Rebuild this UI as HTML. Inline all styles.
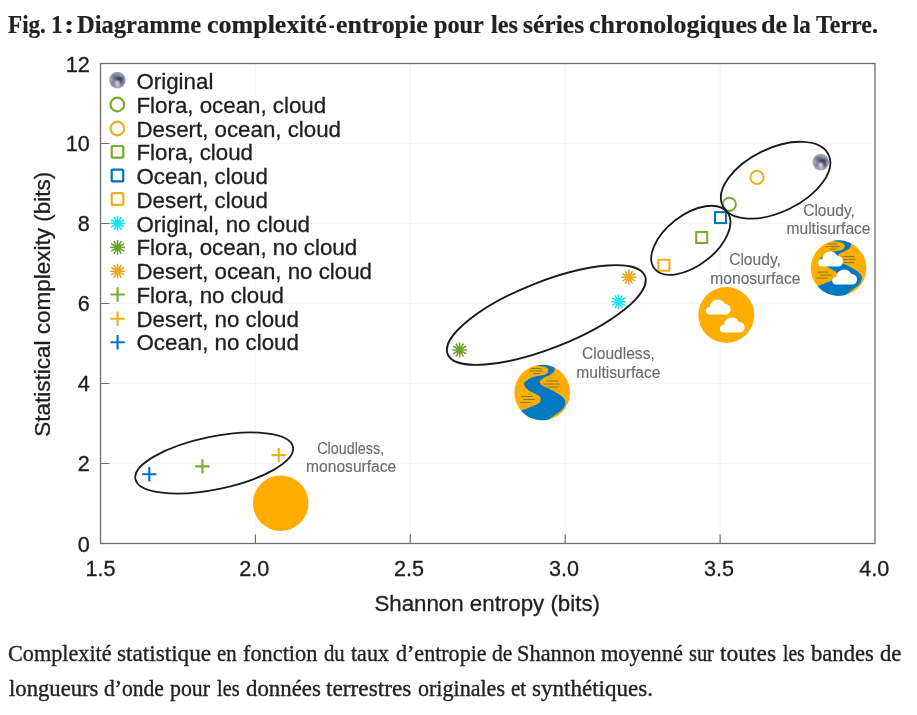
<!DOCTYPE html>
<html lang="fr">
<head>
<meta charset="utf-8">
<title>Fig. 1</title>
<style>
  html, body { margin: 0; padding: 0; background: #ffffff; }
  body { width: 917px; height: 715px; position: relative; overflow: hidden; font-family: "Liberation Sans", sans-serif; }
  #title, #l1, #l2 { filter: grayscale(1); position: absolute; left: 0; margin: 0; padding: 0; width: 917px; white-space: nowrap; color: #222222; font-family: "Liberation Serif", serif; }
  #title { top: 10px; height: 30px; font-weight: bold; font-size: 24.5px; line-height: 30px; -webkit-text-stroke: 0.2px #222222; }
  #l1, #l2 { height: 30px; font-size: 23px; line-height: 30px; font-weight: normal; -webkit-text-stroke: 0.35px #222222; }
  #l1 { top: 639.2px; }
  #l2 { top: 674px; }
  #title span, #l1 span, #l2 span { position: absolute; top: 0; display: block; transform-origin: 0 0; white-space: nowrap; }
  #chart { position: absolute; left: 0; top: 0; filter: blur(0.4px); }
  #chart .tx { filter: grayscale(1); stroke: #1e1e1e; stroke-width: 0.3px; }
  #chart .lb { stroke: #6b6b6b; stroke-width: 0.12px; }
  #chart text { font-family: "Liberation Sans", sans-serif; }
</style>
</head>
<body>
<h1 id="title"><span style="left:8.4px;transform:scaleX(0.944)">Fig.</span> <span style="left:50.8px;transform:scaleX(0.96)">1</span> <span style="left:64.1px;transform:scaleX(1.25)">:</span> <span style="left:76.8px;transform:scaleX(1.002)">Diagramme</span> <span style="left:207.3px;transform:scaleX(1.061)">complexité</span> <span style="left:329px;transform:scaleX(0.675)">-</span> <span style="left:336.2px;transform:scaleX(1.059)">entropie</span> <span style="left:433.8px;transform:scaleX(0.99)">pour</span> <span style="left:490.5px;transform:scaleX(0.993)">les</span> <span style="left:523px;transform:scaleX(1.045)">séries</span> <span style="left:589px;transform:scaleX(1.058)">chronologiques</span> <span style="left:761.3px;transform:scaleX(1.067)">de</span> <span style="left:793.2px;transform:scaleX(0.936)">la</span> <span style="left:816.4px;transform:scaleX(0.98)">Terre.</span></h1>

<svg id="chart" width="917" height="715" viewBox="0 0 917 715">
  <defs>
    <radialGradient id="earthg" cx="0.5" cy="0.5" r="0.5">
      <stop offset="0" stop-color="#7d8299"/>
      <stop offset="0.7" stop-color="#878ca2"/>
      <stop offset="0.92" stop-color="#9da1b8"/>
      <stop offset="1" stop-color="#c3c6d4"/>
    </radialGradient>
    <filter id="eb" x="-50%" y="-50%" width="200%" height="200%"><feGaussianBlur stdDeviation="1.1"/></filter>
    <clipPath id="ecl"><circle cx="0" cy="0" r="8.4"/></clipPath>
    <g id="earth">
      <circle cx="0" cy="0" r="8.4" fill="url(#earthg)"/>
      <g clip-path="url(#ecl)" filter="url(#eb)">
        <ellipse cx="1.6" cy="-1.2" rx="3.8" ry="2.8" fill="#36405c"/>
        <ellipse cx="3.6" cy="2.6" rx="2" ry="1.7" fill="#505a78"/>
        <ellipse cx="-3.4" cy="-3.2" rx="1.8" ry="1.4" fill="#626a88"/>
        <ellipse cx="-0.2" cy="2.6" rx="1.7" ry="1.9" fill="#f4f5fa"/>
        <ellipse cx="0.4" cy="5.8" rx="1.9" ry="1" fill="#dfe1eb"/>
        <ellipse cx="-6.4" cy="-0.4" rx="0.9" ry="1.1" fill="#d9dce8"/>
        <ellipse cx="3.2" cy="-5" rx="1.6" ry="0.9" fill="#a9adc4"/>
      </g>
    </g>
    <clipPath id="icl"><circle cx="0" cy="0" r="27.8"/></clipPath>
    <!-- cloud shape, local coords: bbox approx x -12.3..12.3, y -7.5..7.5 -->
    <path id="cloud" d="M -8.6 7.5 C -10.8 7.5 -12.4 5.8 -12.4 3.7 C -12.4 1.5 -10.6 -0.1 -8.4 0 C -8 -4.3 -4.6 -7.6 -0.4 -7.6 C 2.8 -7.6 5.5 -5.7 6.7 -3 C 9.9 -3.1 12.4 -0.8 12.4 2.3 C 12.4 5.2 10.1 7.5 7.2 7.5 Z"/>
    <g id="plus"><path d="M -7.2 0 H 7.2 M 0 -7.2 V 7.2" fill="none" stroke-width="2.1"/></g>
    <g id="ast"><path d="M -7.40 -0.00 L 7.40 0.00 M -6.41 -3.70 L 6.41 3.70 M -3.70 -6.41 L 3.70 6.41 M -0.00 -7.40 L 0.00 7.40 M 3.70 -6.41 L -3.70 6.41 M 6.41 -3.70 L -6.41 3.70" fill="none" stroke-width="1.6"/><circle cx="0" cy="0" r="3.4" stroke="none"/></g>
    <g id="river">
      <circle cx="0" cy="0" r="27.8" fill="#ffad00"/>
      <g clip-path="url(#icl)">
        <path d="M -9.0 -31.0 C -8.3 -30.4 -6.8 -28.0 -4.9 -27.1 C -3.0 -26.2 0.4 -26.4 2.3 -25.7 C 4.2 -25.0 6.0 -24.1 6.2 -22.9 C 6.4 -21.7 6.0 -19.5 3.6 -18.3 C 1.2 -17.1 -4.8 -16.9 -8.2 -15.7 C -11.6 -14.5 -15.1 -12.4 -16.7 -11.1 C -18.3 -9.8 -18.4 -9.2 -18.0 -7.8 C -17.6 -6.4 -16.4 -4.3 -14.1 -2.6 C -11.8 -0.9 -6.3 1.2 -4.2 2.7 C -2.1 4.2 -1.6 5.2 -1.6 6.6 C -1.6 8.0 -1.2 9.3 -4.2 11.2 C -7.2 13.0 -15.9 16.1 -19.9 17.7 C -23.9 19.3 -26.6 20.4 -28.0 21.0 L -28 34 L 4 34 L 4.0 31.0 C 5.0 29.9 7.4 26.7 10.2 24.3 C 13.0 21.9 18.4 18.8 20.6 16.4 C 22.8 14.0 23.2 11.9 23.2 9.9 C 23.2 7.9 22.8 6.6 20.6 4.6 C 18.4 2.6 13.7 0.1 10.2 -1.9 C 6.7 -3.9 1.8 -5.7 -0.3 -7.2 C -2.4 -8.7 -2.7 -9.8 -2.3 -11.1 C -1.9 -12.4 0.1 -13.6 2.3 -15.0 C 4.5 -16.4 9.1 -18.0 10.8 -19.6 C 12.6 -21.2 12.1 -23.1 12.8 -24.8 C 13.5 -26.5 14.6 -29.1 15.0 -30.0 Z" fill="#0079c2"/>
        <g stroke="#7f7c1e" stroke-width="1" fill="none">
          <path d="M -11 -24 H -1 M -13 -21.5 H 1 M -9 -19 H -2"/>
          <path d="M 4 -11.5 H 16 M 1 -8.5 H 17 M 5 -5.5 H 16"/>
          <path d="M -21 4 H -10 M -19 7 H -7 M -22 10 H -11"/>
        </g>
      </g>
    </g>
  </defs>

  <!-- grid -->
  <g stroke="#f5f5f5" stroke-width="1" fill="none">
    <path d="M 255.4 63.5 V 543.5 M 410.3 63.5 V 543.5 M 565.2 63.5 V 543.5 M 720.1 63.5 V 543.5"/>
    <path d="M 100.5 143.5 H 875 M 100.5 223.5 H 875 M 100.5 303.5 H 875 M 100.5 383.5 H 875 M 100.5 463.5 H 875"/>
  </g>
  <!-- frame -->
  <rect x="100.5" y="63.5" width="774.5" height="480" fill="none" stroke="#6e6e6e" stroke-width="1.3"/>
  <!-- ticks -->
  <g stroke="#6e6e6e" stroke-width="1.2" fill="none">
    <path d="M 100.5 143.5 h 9 M 100.5 223.5 h 9 M 100.5 303.5 h 9 M 100.5 383.5 h 9 M 100.5 463.5 h 9"/>
    <path d="M 255.4 543.5 v -9 M 410.3 543.5 v -9 M 565.2 543.5 v -9 M 720.1 543.5 v -9"/>
  </g>

  <!-- tick labels -->
  <g class="tx" font-size="21.6" fill="#1e1e1e" text-anchor="end">
    <text x="89.7" y="71.8">12</text>
    <text x="89.7" y="151.3">10</text>
    <text x="89.7" y="231.3">8</text>
    <text x="89.7" y="311.3">6</text>
    <text x="89.7" y="391.3">4</text>
    <text x="89.7" y="471.3">2</text>
    <text x="89.7" y="551.8">0</text>
  </g>
  <g class="tx" font-size="21.6" fill="#1e1e1e" text-anchor="middle">
    <text x="100.6" y="576.4">1.5</text>
    <text x="254.2" y="576.4">2.0</text>
    <text x="409.1" y="576.4">2.5</text>
    <text x="564" y="576.4">3.0</text>
    <text x="718.9" y="576.4">3.5</text>
    <text x="874.3" y="576.4">4.0</text>
  </g>
  <text class="tx" x="487.2" y="611" font-size="22.3" fill="#1e1e1e" text-anchor="middle">Shannon entropy (bits)</text>
  <text class="tx" transform="translate(50.3 304.3) rotate(-90)" font-size="22.5" fill="#1e1e1e" text-anchor="middle">Statistical complexity (bits)</text>

  <!-- legend -->
  <g id="legend">
    <use href="#earth" x="117.4" y="80.2"/>
    <circle cx="117.3" cy="104.5" r="6.8" fill="none" stroke="#77ac30" stroke-width="2.2"/>
    <circle cx="117.3" cy="128.5" r="6.8" fill="none" stroke="#edb120" stroke-width="2.2"/>
    <rect x="111.7" y="146" width="11.6" height="11.6" rx="0.8" fill="none" stroke="#77ac30" stroke-width="2.2"/>
    <rect x="111.7" y="169.7" width="11.6" height="11.6" rx="0.8" fill="none" stroke="#0072bd" stroke-width="2.2"/>
    <rect x="111.7" y="193.2" width="11.6" height="11.6" rx="0.8" fill="none" stroke="#edb120" stroke-width="2.2"/>
    <use href="#ast" x="117.6" y="223.4" stroke="#1fe4ec" fill="#1fe4ec"/>
    <use href="#ast" x="117.6" y="247.4" stroke="#6fa22f" fill="#6aa62e"/>
    <use href="#ast" x="117.6" y="271.2" stroke="#e3a424" fill="#f2a81f"/>
    <use href="#plus" x="117.6" y="294.5" stroke="#77ac30"/>
    <use href="#plus" x="117.6" y="318.7" stroke="#edb120"/>
    <use href="#plus" x="117.6" y="342.2" stroke="#0072bd"/>
    <g class="tx" font-size="22.3" fill="#1e1e1e">
      <text x="136.5" y="89.2">Original</text>
      <text x="136.5" y="112.9">Flora, ocean, cloud</text>
      <text x="136.5" y="136.7">Desert, ocean, cloud</text>
      <text x="136.5" y="160.4">Flora, cloud</text>
      <text x="136.5" y="184.2">Ocean, cloud</text>
      <text x="136.5" y="207.9">Desert, cloud</text>
      <text x="136.5" y="231.6">Original, no cloud</text>
      <text x="136.5" y="255.4">Flora, ocean, no cloud</text>
      <text x="136.5" y="279.1">Desert, ocean, no cloud</text>
      <text x="136.5" y="302.9">Flora, no cloud</text>
      <text x="136.5" y="326.6">Desert, no cloud</text>
      <text x="136.5" y="350.3">Ocean, no cloud</text>
    </g>
  </g>

  <!-- data markers -->
  <use href="#plus" x="149.3" y="474.2" stroke="#0072bd"/>
  <use href="#plus" x="202.4" y="466.4" stroke="#77ac30"/>
  <use href="#plus" x="278.7" y="455.1" stroke="#edb120"/>
  <use href="#ast" x="459.7" y="350" stroke="#6fa22f" fill="#6aa62e"/>
  <use href="#ast" x="618.6" y="301.7" stroke="#1fe4ec" fill="#1fe4ec"/>
  <use href="#ast" x="628.9" y="277.2" stroke="#e3a424" fill="#f2a81f"/>
  <rect x="658.4" y="259.7" width="11" height="11" fill="none" stroke="#edb120" stroke-width="2"/>
  <rect x="696.2" y="232" width="11" height="11" fill="none" stroke="#77ac30" stroke-width="2"/>
  <rect x="715" y="212.1" width="11" height="11" fill="none" stroke="#0072bd" stroke-width="2"/>
  <circle cx="729.3" cy="204.3" r="6.6" fill="none" stroke="#77ac30" stroke-width="2"/>
  <circle cx="757" cy="177.4" r="6.6" fill="none" stroke="#edb120" stroke-width="2"/>
  <use href="#earth" x="820.8" y="162.2"/>

  <!-- ellipses -->
  <g fill="none" stroke="#1a1a1a" stroke-width="1.8">
    <ellipse cx="0" cy="0" rx="80.4" ry="26.4" transform="translate(214.2 463) rotate(-11.6)"/>
    <ellipse cx="0" cy="0" rx="106.1" ry="33.3" transform="translate(546.3 315) rotate(-21.6)"/>
    <ellipse cx="0" cy="0" rx="46" ry="25.3" transform="translate(690.8 240.3) rotate(-37.7)"/>
    <ellipse cx="0" cy="0" rx="58.8" ry="31.8" transform="translate(775.6 180.2) rotate(-25.9)"/>
  </g>

  <!-- icons -->
  <circle cx="280.7" cy="503.2" r="27.8" fill="#ffad00"/>
  <use href="#river" x="542.2" y="392.5"/>
  <g transform="translate(726.3 315)">
    <circle cx="0" cy="0" r="28" fill="#ffad00"/>
    <use href="#cloud" x="-8.1" y="-7.9" fill="#ffffff"/>
    <use href="#cloud" x="6" y="10" fill="#ffffff"/>
  </g>
  <g transform="translate(838.6 268.1)">
    <use href="#river" x="0" y="0"/>
    <use href="#cloud" x="-8" y="-9" fill="#ffffff"/>
    <use href="#cloud" x="6" y="9" fill="#ffffff"/>
  </g>

  <!-- group labels -->
  <g class="tx lb" font-size="15.6" fill="#6b6b6b" text-anchor="middle">
    <text x="350.7" y="453.6" textLength="67" lengthAdjust="spacingAndGlyphs">Cloudless,</text>
    <text x="351.2" y="472.1">monosurface</text>
    <text x="618.4" y="359.3">Cloudless,</text>
    <text x="618.4" y="377.8">multisurface</text>
    <text x="755" y="264.9">Cloudy,</text>
    <text x="755.4" y="283.8">monosurface</text>
    <text x="829" y="216">Cloudy,</text>
    <text x="828.5" y="234.1">multisurface</text>
  </g>
</svg>

<div id="cap">
  <p id="l1"><span style="left:7.8px;transform:scaleX(0.965)">Complexité</span> <span style="left:117.2px;transform:scaleX(1.009)">statistique</span> <span style="left:217px;transform:scaleX(0.901)">en</span> <span style="left:243px;transform:scaleX(0.97)">fonction</span> <span style="left:323.6px;transform:scaleX(0.902)">du</span> <span style="left:351.4px;transform:scaleX(0.958)">taux</span> <span style="left:395.6px;transform:scaleX(0.958)">d’entropie</span> <span style="left:491.6px;transform:scaleX(0.94)">de</span> <span style="left:516.6px;transform:scaleX(0.974)">Shannon</span> <span style="left:601.3px;transform:scaleX(0.971)">moyenné</span> <span style="left:688.9px;transform:scaleX(0.886)">sur</span> <span style="left:720.1px;transform:scaleX(1.02)">toutes</span> <span style="left:783px;transform:scaleX(0.848)">les</span> <span style="left:811px;transform:scaleX(0.983)">bandes</span> <span style="left:879.9px;transform:scaleX(0.986)">de</span></p>
  <p id="l2"><span style="left:8.6px;transform:scaleX(0.986)">longueurs</span> <span style="left:104px;transform:scaleX(0.938)">d’onde</span> <span style="left:169.7px;transform:scaleX(0.948)">pour</span> <span style="left:217px;transform:scaleX(0.883)">les</span> <span style="left:245.6px;transform:scaleX(0.992)">données</span> <span style="left:326.4px;transform:scaleX(1.013)">terrestres</span> <span style="left:417.6px;transform:scaleX(0.959)">originales</span> <span style="left:510.6px;transform:scaleX(0.918)">et</span> <span style="left:532.2px;transform:scaleX(1.002)">synthétiques.</span></p>
</div>
</body>
</html>
